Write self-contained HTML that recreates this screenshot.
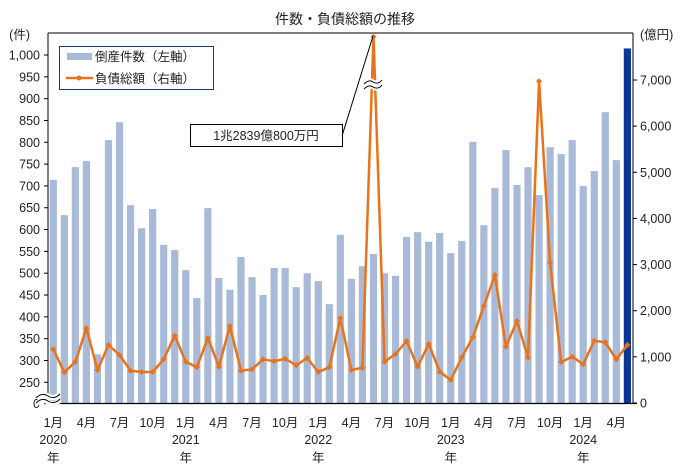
<!DOCTYPE html>
<html><head><meta charset="utf-8"><style>
body{margin:0;background:#fff;}
svg{display:block;font-family:"Liberation Sans","Noto Sans CJK JP",sans-serif;}
</style></head><body>
<svg id="s" width="695" height="470" viewBox="0 0 695 470" xmlns="http://www.w3.org/2000/svg">
<rect width="695" height="470" fill="#fff"/>
<text x="345" y="24" font-size="14" text-anchor="middle" fill="#222">件数・負債総額の推移</text>
<g id="bars"></g>
<!-- axes -->
<line x1="48" y1="33" x2="633" y2="33" stroke="#000" stroke-width="1"/>
<line x1="48" y1="33" x2="48" y2="403" stroke="#000" stroke-width="1"/>
<line x1="633" y1="33" x2="633" y2="403" stroke="#000" stroke-width="1"/>
<line x1="44" y1="403.5" x2="637" y2="403.5" stroke="#000" stroke-width="1.3"/>
<g id="ticks"></g>
<g font-size="12.5" fill="#222" text-anchor="end" id="ly">
<text x="30" y="39">(件)</text>
</g>
<g font-size="12.5" fill="#222" id="ry">
<text x="640" y="39">(億円)</text>
</g>
<polyline id="ln" fill="none" stroke="#e8731a" stroke-width="2.5" stroke-linejoin="round"/>
<g id="mk"></g>
<!-- break marks -->
<path d="M36 398 q6 -6 12 -2 q6 4 12 -2 M36 404 q6 -6 12 -2 q6 4 12 -2" fill="none" stroke="#fff" stroke-width="5"/>
<path d="M36 398 q6 -6 12 -2 q6 4 12 -2 M36 403 q6 -6 12 -2 q6 4 12 -2" fill="none" stroke="#000" stroke-width="1"/>
<path d="M364 84 q5 -5 9 -2 q5 3 9 -2 M364 89 q5 -5 9 -2 q5 3 9 -2" fill="none" stroke="#fff" stroke-width="5"/>
<path d="M364 84 q5 -5 9 -2 q5 3 9 -2 M364 89 q5 -5 9 -2 q5 3 9 -2" fill="none" stroke="#000" stroke-width="1"/>
<!-- annotation -->
<line x1="342" y1="136" x2="373" y2="36" stroke="#000" stroke-width="1"/>
<rect x="190.5" y="124.5" width="152" height="22" fill="#fff" stroke="#000"/>
<text x="266" y="140" font-size="12.5" text-anchor="middle" fill="#222">1兆2839億800万円</text>
<!-- legend -->
<rect x="59.5" y="46.5" width="154" height="43" fill="#fff" stroke="#1f3a7a"/>
<rect x="67" y="53" width="25" height="7" fill="#a9b9d8"/>
<text x="95" y="61" font-size="12.5" fill="#222">倒産件数（左軸）</text>
<line x1="66" y1="78" x2="93" y2="78" stroke="#e8731a" stroke-width="2.5"/>
<circle cx="79" cy="78" r="2.5" fill="#e8731a"/>
<text x="95" y="83" font-size="12.5" fill="#222">負債総額（右軸）</text>
<g font-size="12.5" fill="#222" text-anchor="middle" id="xl"></g>
</svg>
<script>
const cnt=[714,633,743,757,314,805,846,656,603,647,565,553,507,443,649,489,462,537,491,450,512,512,468,500,482,429,588,487,516,544,500,494,583,594,572,592,546,574,801,610,695,782,702,743,679,789,773,805,700,734,869,759,1015];
const ly=[349.3,372.3,361.7,328.3,370,345,355,370.7,372,372,359.3,335.7,361.7,367.3,338,366.7,326,370.7,369.3,359.3,361.3,358.7,365.3,358,372,367.3,318.3,370,367.7,36.7,361.7,354,341,366.7,344,371.7,380,357.3,337.3,306,275,346.7,321,357.7,81.3,262.7,362,356.7,364.3,340.7,342.3,359.3,345];
const NS="http://www.w3.org/2000/svg";
function el(t,a,p){const e=document.createElementNS(NS,t);for(const k in a)e.setAttribute(k,a[k]);p.appendChild(e);return e;}
const bars=document.getElementById('bars'),mk=document.getElementById('mk');
let pts=[];
cnt.forEach((v,i)=>{const cx=53.3+i*11.04;const y=v<250?403-v*0.0832:382.3-(v-250)*0.4364;
el('rect',{x:cx-3.6,y:y,width:7.2,height:403-y,fill:i==52?'#0a3696':'#a9b9d8'},bars);
pts.push(cx.toFixed(1)+','+ly[i]);
el('path',{d:`M${cx-3} ${ly[i]}L${cx} ${ly[i]-3}L${cx+3} ${ly[i]}L${cx} ${ly[i]+3}Z`,fill:'#e8731a'},mk);});
document.getElementById('ln').setAttribute('points',pts.join(' '));
const lyg=document.getElementById('ly'),ryg=document.getElementById('ry'),tk=document.getElementById('ticks');
for(let v=250;v<=1000;v+=50){const y=382.3-(v-250)*0.4364;
el('line',{x1:44,y1:y,x2:48,y2:y,stroke:'#000'},tk);
const t=el('text',{x:40,y:y+4.5},lyg);t.textContent=v>=1000?'1,000':v;}
{const t=el('text',{x:40,y:408},lyg);t.textContent='0';}
for(let v=0;v<=7000;v+=1000){const y=403-v*0.04614;
el('line',{x1:633,y1:y,x2:637,y2:y,stroke:'#000'},tk);
const t=el('text',{x:640,y:y+4.5},ryg);t.textContent=v==0?'0':(v/1000)+',000';}
el('line',{x1:44,y1:403,x2:48,y2:403,stroke:'#000'},tk);
const xl=document.getElementById('xl');
for(let i=0;i<53;i+=3){const cx=53.3+i*11.04;const m=i%12+1;
const t=el('text',{x:cx+(m==10?0:0),y:427},xl);t.textContent=m+'月';
if(m==1){const y1=el('text',{x:cx,y:444},xl);y1.textContent=2020+i/12;const y2=el('text',{x:cx,y:462},xl);y2.textContent='年';}}
</script>
</body></html>
